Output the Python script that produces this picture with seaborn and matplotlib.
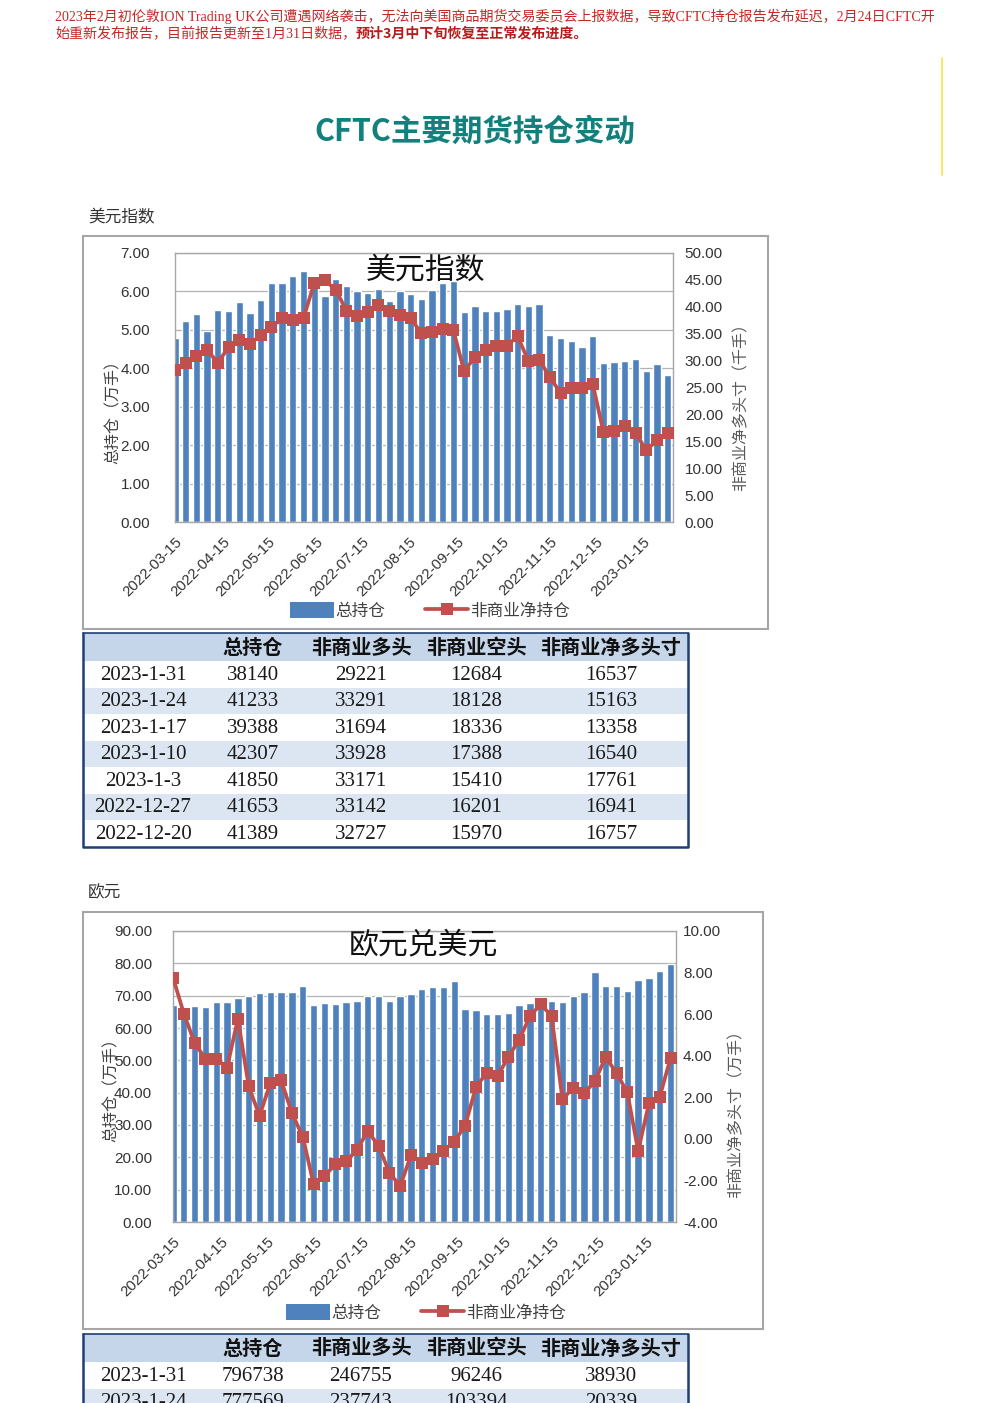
import numpy as np
import pandas as pd
import matplotlib
matplotlib.use('Agg')
import matplotlib.pyplot as plt
from matplotlib.patches import Rectangle, Patch
from matplotlib.lines import Line2D
import seaborn as sns

sns.set_style("white")
plt.rcParams['font.family'] = ['Liberation Sans', 'Noto Sans CJK SC']
plt.rcParams['axes.unicode_minus'] = False

CJK = ['Noto Sans CJK SC', 'DejaVu Sans']
SERIF = ['Liberation Serif', 'Noto Sans CJK SC']

BLUE = '#4f81bd'
RED = '#c0504d'
GRAY = '#a6a6a6'
HEAD = '#c5d5ea'
ALT = '#dce6f2'
NAVY = '#1f3f73'

# ---- 数据 ----
weeks = pd.date_range('2022-03-15', periods=47, freq='7D')
month_ticks = [pd.Timestamp('2022-03-15') + pd.DateOffset(months=i) for i in range(11)]

# 美元指数: 总持仓(万手), 非商业净多头寸(千手) 2022-03-15 ~ 2022-12-13
usd_total_early = [4.78, 5.24, 5.42, 4.96, 5.52, 5.50, 5.72, 5.45, 5.78, 6.23,
                   6.21, 6.41, 6.54, 6.15, 5.89, 6.33, 6.13, 6.00, 5.96, 6.07,
                   5.74, 6.00, 5.94, 5.79, 6.05, 6.22, 6.27, 5.47, 5.62, 5.48,
                   5.48, 5.55, 5.66, 5.61, 5.66, 4.86, 4.79, 4.70, 4.55, 4.83]
usd_net_early = [28.2, 29.6, 30.9, 32.0, 29.6, 32.5, 33.9, 33.0, 34.8, 36.2,
                 37.9, 37.5, 37.9, 44.4, 44.9, 43.2, 39.3, 38.2, 39.0, 40.4,
                 39.3, 38.5, 37.9, 35.1, 35.4, 35.9, 35.6, 28.0, 30.7, 31.9,
                 32.8, 32.8, 34.5, 29.9, 30.2, 26.9, 24.0, 24.9, 24.9, 25.7]

usd_tab_dates = ['2023-1-31', '2023-1-24', '2023-1-17', '2023-1-10', '2023-1-3', '2022-12-27', '2022-12-20']
usd_tab_total = [38140, 41233, 39388, 42307, 41850, 41653, 41389]
usd_tab_long = [29221, 33291, 31694, 33928, 33171, 33142, 32727]
usd_tab_short = [12684, 18128, 18336, 17388, 15410, 16201, 15970]
usd_tab_net = [16537, 15163, 13358, 16540, 17761, 16941, 16757]

# 欧元兑美元: 总持仓(万手), 非商业净多头寸(万手) 2022-03-15 ~ 2023-01-17
eur_total_early = [67.1, 65.7, 66.7, 66.6, 68.1, 68.1, 69.2, 69.8, 70.7, 71.0,
                   71.2, 71.0, 73.1, 67.2, 67.6, 67.5, 67.9, 68.4, 69.8, 69.8,
                   68.4, 69.8, 70.5, 72.2, 72.6, 72.6, 74.6, 65.9, 65.7, 64.3,
                   64.3, 64.5, 67.1, 67.7, 68.4, 68.4, 68.1, 70.0, 71.2, 77.4,
                   72.9, 73.1, 71.5, 74.9, 75.6]
eur_net_early = [7.76, 6.03, 4.61, 3.85, 3.85, 3.42, 5.79, 2.52, 1.11, 2.68,
                 2.81, 1.23, 0.10, -2.19, -1.79, -1.23, -1.06, -0.55, 0.39, -0.34,
                 -1.63, -2.27, -0.79, -1.15, -0.98, -0.58, -0.13, 0.63, 2.48, 3.18,
                 3.02, 3.94, 4.77, 5.90, 6.48, 5.90, 1.92, 2.44, 2.19, 2.77,
                 3.94, 3.16, 2.24, -0.58, 1.71]

eur_tab_dates = ['2023-1-31', '2023-1-24']
eur_tab_total = [796738, 777569]
eur_tab_long = [246755, 237743]
eur_tab_short = [96246, 103394]
eur_tab_net = [38930, 20339]

headers = ['总持仓', '非商业多头', '非商业空头', '非商业净多头寸']

usd_total = usd_total_early + [v / 10000 for v in usd_tab_total[::-1]]
usd_net = usd_net_early + [v / 1000 for v in usd_tab_net[::-1]]
eur_total = eur_total_early + [v / 10000 for v in eur_tab_total[::-1]]
eur_net = eur_net_early + [v / 10000 for v in eur_tab_net[::-1]]

# ---- 画布 ----
W, H = 992, 1403
fig = plt.figure(figsize=(W / 100, H / 100), dpi=100)
bg = fig.add_axes([0, 0, 1, 1], zorder=-1)
bg.set_xlim(0, W)
bg.set_ylim(H, 0)
bg.axis('off')


def fx(x):
    return x / W


def fy(y):
    return 1 - y / H


# 顶部说明
red_txt = '#c62828'
line1 = '2023年2月初伦敦ION Trading UK公司遭遇网络袭击，无法向美国商品期货交易委员会上报数据，导致CFTC持仓报告发布延迟，2月24日CFTC开'
t1 = bg.text(55, 16, line1, ha='left', va='center', family=SERIF, fontsize=10.1, color=red_txt)
t2 = bg.text(55, 34, '始重新发布报告，目前报告更新至1月31日数据，', ha='left', va='center',
             family=SERIF, fontsize=10.1, color=red_txt)
bg.annotate('预计3月中下旬恢复至正常发布进度。', xy=(1, 0.5), xycoords=t2, ha='left', va='center',
            family=CJK, fontsize=10.1, weight='bold', color='#b71c1c')
bg.plot([942, 942], [58, 175], color='#f5e642', lw=1.2)

bg.text(475, 132, 'CFTC主要期货持仓变动', ha='center', va='center', family=CJK,
        fontsize=22, weight='bold', color='#12807c')

bg.text(88, 218, '美元指数', ha='left', va='center', family=CJK, fontsize=12, color='#333333')
bg.text(88, 893, '欧元', ha='left', va='center', family=CJK, fontsize=12, color='#333333')

# 图框
bg.add_patch(Rectangle((83, 236), 685, 393, fill=False, ec=GRAY, lw=1.5))
bg.add_patch(Rectangle((83, 912), 680, 417, fill=False, ec=GRAY, lw=1.5))


def draw_chart(box, total, net, lim1, step1, lim2, step2, pad_l, pad_r, title, title_xy,
               llab_xy, rlab, rlab_xy, leg_xy):
    l, t, r, b = box
    ax = fig.add_axes([fx(l), fy(b), (r - l) / W, (b - t) / H])
    ax.patch.set_alpha(0)
    df = pd.DataFrame({'week': np.arange(len(total)), 'total': total, 'net': net})
    sns.barplot(data=df, x='week', y='total', native_scale=True, color=BLUE, saturation=1,
                width=0.68, errorbar=None, ax=ax)
    ax2 = ax.twinx()
    sns.lineplot(data=df, x='week', y='net', ax=ax2, color=RED, lw=2.7, marker='s',
                 markersize=8.5, markeredgewidth=0)

    tick_pos = [(d - weeks[0]).days / 7 for d in month_ticks]
    ax.set_xticks(tick_pos)
    ax.set_xticklabels([d.strftime('%Y-%m-%d') for d in month_ticks], rotation=45,
                       ha='right', rotation_mode='anchor', fontsize=10.8, color='#333333')
    ax.tick_params(axis='x', length=5, color=GRAY, direction='out', pad=4)
    ax.set_xlim(0, 46.5)

    ax.set_ylim(*lim1)
    yt = np.arange(lim1[0], lim1[1] + step1 / 2, step1)
    ax.set_yticks(yt)
    ax.set_yticklabels([f'{v:.2f}' for v in yt])
    ax.tick_params(axis='y', length=0, pad=pad_l, labelsize=11, labelcolor='#333333')
    ax2.set_ylim(*lim2)
    yt2 = np.arange(lim2[0], lim2[1] + step2 / 2, step2)
    ax2.set_yticks(yt2)
    ax2.set_yticklabels([f'{v:.2f}' for v in yt2])
    ax2.tick_params(axis='y', length=0, pad=pad_r, labelsize=11, labelcolor='#333333')

    ax.yaxis.grid(True, color='#b3b3b3', lw=0.9)
    ax.set_axisbelow(True)
    for s in ax.spines.values():
        s.set_color(GRAY)
        s.set_linewidth(1)
    for s in ax2.spines.values():
        s.set_visible(False)
    ax.set_xlabel('')
    ax.set_ylabel('')
    ax2.set_xlabel('')
    ax2.set_ylabel('')

    fig.text(fx(title_xy[0]), fy(title_xy[1]), title, ha='center', va='center',
             family=CJK, fontsize=21.5, color='#111111')
    fig.text(fx(llab_xy[0]), fy(llab_xy[1]), '总持仓（万手）', rotation=90, ha='center',
             va='center', family=CJK, fontsize=11.5, color='#404040')
    fig.text(fx(rlab_xy[0]), fy(rlab_xy[1]), rlab, rotation=90, ha='center',
             va='center', family=CJK, fontsize=11.5, color='#595959')

    handles = [Patch(facecolor=BLUE, edgecolor='none'),
               Line2D([0], [0], color=RED, lw=2.7, marker='s', ms=8.5, mew=0)]
    fig.legend(handles, ['总持仓', '非商业净持仓'], loc='center',
               bbox_to_anchor=(fx(leg_xy[0]), fy(leg_xy[1])), ncol=2, frameon=False,
               prop={'family': CJK, 'size': 12}, labelcolor='#404040', handlelength=2.6,
               handleheight=1.1, handletextpad=0.1, columnspacing=2.4)
    return ax


draw_chart((175, 253, 673, 522), usd_total, usd_net, (0, 7), 1, (0, 50), 5, 18, 8.5,
           '美元指数', (426, 270), (113, 408), '非商业净多头寸（千手）', (741, 403), (430, 611))
draw_chart((173, 931, 676, 1222), eur_total, eur_net, (0, 90), 10, (-4, 10), 2, 15, 5,
           '欧元兑美元', (423, 945), (111, 1086), '非商业净多头寸（万手）', (736, 1110), (426, 1313))

col_x = [143, 253, 361, 476, 611]


def draw_table(top, dates, total, long_, short, net):
    left, right = 83, 688
    hh, rh = 28, 26.5
    bg.add_patch(Rectangle((left, top), right - left, hh, fc=HEAD, ec='none'))
    rows = list(zip(dates, total, long_, short, net))
    for i, row in enumerate(rows):
        y0 = top + hh + i * rh
        fc = ALT if i % 2 else 'white'
        bg.add_patch(Rectangle((left, y0), right - left, rh, fc=fc, ec='none'))
        for x, v in zip(col_x, row):
            bg.text(x, y0 + rh / 2 + 1, str(v), ha='center', va='center', family=SERIF,
                    fontsize=15, color='#1a1a1a')
    for x, h in zip(col_x[1:], headers):
        bg.text(x, top + hh / 2, h, ha='center', va='center', family=CJK, fontsize=14.5,
                weight='bold', color='#111111')
    bottom = top + hh + len(rows) * rh
    bg.plot([left, left, right, right], [top, bottom, bottom, top], color=NAVY, lw=1.8)
    bg.plot([left, right], [top, top], color=NAVY, lw=1.2)


draw_table(633, usd_tab_dates, usd_tab_total, usd_tab_long, usd_tab_short, usd_tab_net)
draw_table(1334, eur_tab_dates, eur_tab_total, eur_tab_long, eur_tab_short, eur_tab_net)

fig.savefig('out.png', dpi=100)
